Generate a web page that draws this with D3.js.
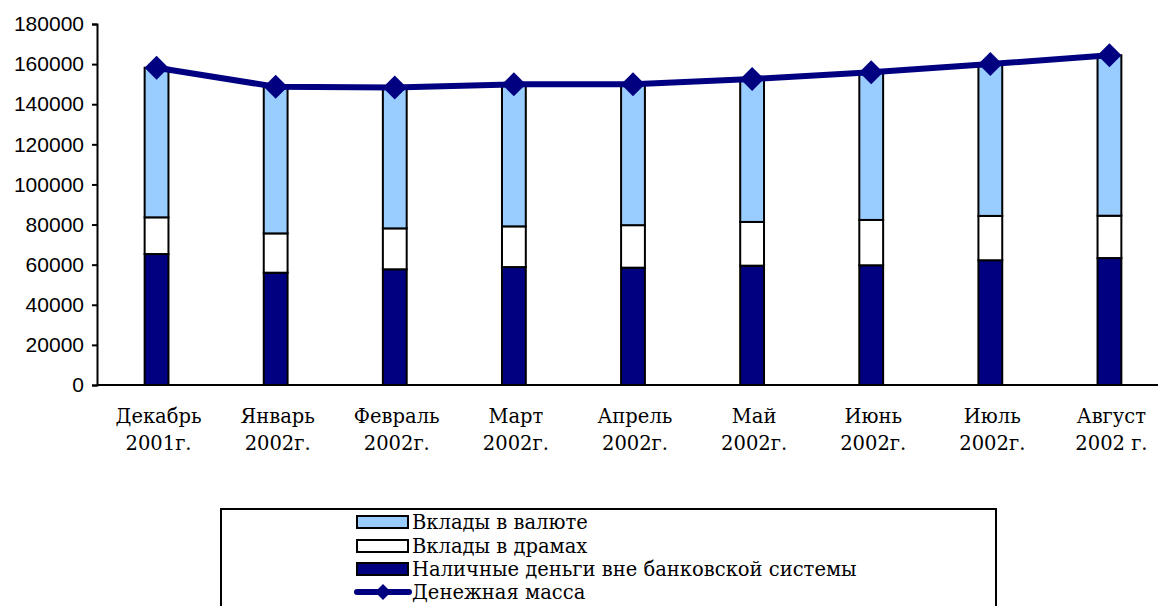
<!DOCTYPE html>
<html>
<head>
<meta charset="utf-8">
<script src="https://cdn.jsdelivr.net/npm/d3@7/dist/d3.min.js"></script>
<style>
  body { margin: 0; background: #ffffff; }
</style>
</head>
<body>
<script>
// ************** Data ***************************************
var months = ["Декабрь", "Январь", "Февраль", "Март", "Апрель", "Май", "Июнь", "Июль", "Август"];
var years = ["2001г.", "2002г.", "2002г.", "2002г.", "2002г.", "2002г.", "2002г.", "2002г.", "2002 г."];
var cashOutside = [65300, 56000, 57700, 58800, 58500, 59500, 59700, 62200, 63300];
var dramDeposits = [18300, 19600, 20400, 20300, 21200, 21800, 22600, 22100, 21100];
var fxDeposits = [74600, 73100, 70300, 70800, 70300, 71300, 73600, 75700, 80000];
var moneySupply = [158200, 148700, 148400, 149900, 150000, 152600, 155900, 160000, 164400];
var yTicks = [0, 20000, 40000, 60000, 80000, 100000, 120000, 140000, 160000, 180000];
var seriesNames = ["Вклады в валюте", "Вклады в драмах", "Наличные деньги вне банковской системы", "Денежная масса"];

/* Standard sizes of the drawing area */
var margin = {top: 24, right: -11, bottom: 221, left: 97},
    width = 1158 - margin.left - margin.right,
    height = 606 - margin.top - margin.bottom;

var navyColor = "#000080",
    whiteColor = "#ffffff",
    lightBlueColor = "#99ccff",
    serifFont = "'DejaVu Serif', 'Liberation Serif', serif",
    sansFont = "'Liberation Sans', Arial, sans-serif";

var svg = d3.select("body").append("svg")
    .attr("width", 1158)
    .attr("height", 606);

var chart = svg.append("g")
    .attr("transform", "translate(" + margin.left + "," + margin.top + ")");

var x = d3.scaleBand().domain(d3.range(months.length)).range([0, width]).paddingInner(0.8).paddingOuter(0.4);
var y = d3.scaleLinear().domain([0, 180000]).range([height, 0]);

// stack the three bar series from the bottom up
var rows = months.map(function (m, i) {
  return {cash: cashOutside[i], dram: dramDeposits[i], fx: fxDeposits[i]};
});
var stack = d3.stack().keys(["cash", "dram", "fx"]);
var layers = stack(rows);
var layerColors = [navyColor, whiteColor, lightBlueColor];

addYAxis();
addBars();
addXAxis();
addMoneyLine();
addLegend();

function addYAxis() {
  var axis = chart.append("g")
      .call(d3.axisLeft(y).tickValues(yTicks).tickSize(5).tickPadding(8).tickFormat(d3.format("d")));
  axis.select(".domain").attr("stroke", "#000").attr("stroke-width", 2);
  axis.selectAll(".tick line").attr("stroke", "#000").attr("stroke-width", 2);
  axis.selectAll("text")
    .style("font-family", sansFont)
    .style("font-size", "21px")
    .attr("fill", "#000");
}

function addXAxis() {
  chart.append("line")        // x axis line
    .attr("x1", 0)
    .attr("y1", height)
    .attr("x2", width)
    .attr("y2", height)
    .attr("stroke", "#000")
    .attr("stroke-width", 2);

  var labels = chart.append("g").selectAll("text")
    .data(months)
    .enter().append("text")
    .attr("x", function (d, i) { return x(i) + x.bandwidth() / 2 + 2; })
    .attr("y", height + 38)
    .attr("text-anchor", "middle")
    .style("font-family", serifFont)
    .style("font-size", "19.5px")
    .attr("fill", "#000");
  labels.append("tspan").text(function (d) { return d; });
  labels.append("tspan")
    .attr("x", function (d, i) { return x(i) + x.bandwidth() / 2 + 2; })
    .attr("dy", 27)
    .text(function (d, i) { return years[i]; });
}

function addBars() {
  chart.append("g").selectAll("g")
    .data(layers)
    .enter().append("g")
    .attr("fill", function (d, i) { return layerColors[i]; })
    .selectAll("rect")
    .data(function (d) { return d; })
    .enter().append("rect")
    .attr("x", function (d, i) { return x(i); })
    .attr("y", function (d) { return y(d[1]); })
    .attr("width", x.bandwidth())
    .attr("height", function (d) { return y(d[0]) - y(d[1]); })
    .attr("stroke", "#000")
    .attr("stroke-width", 2);
}

function diamondPath(cx, cy, r) {
  return "M" + cx + "," + (cy - r) + "L" + (cx + r) + "," + cy + "L" + cx + "," + (cy + r) + "L" + (cx - r) + "," + cy + "Z";
}

function addMoneyLine() {
  var line = d3.line()
    .x(function (d, i) { return x(i) + x.bandwidth() / 2; })
    .y(function (d) { return y(d); });

  chart.append("path")
    .datum(moneySupply)
    .attr("d", line)
    .attr("fill", "none")
    .attr("stroke", navyColor)
    .attr("stroke-width", 6);

  chart.append("g").selectAll("path")
    .data(moneySupply)
    .enter().append("path")
    .attr("d", function (d, i) { return diamondPath(x(i) + x.bandwidth() / 2, y(d), 12); })
    .attr("fill", navyColor);
}

function addLegend() {
  var legend = svg.append("g");
  legend.append("rect")       // legend frame, cut by the bottom edge
    .attr("x", 221)
    .attr("y", 509)
    .attr("width", 775)
    .attr("height", 120)
    .attr("fill", "#fff")
    .attr("stroke", "#000")
    .attr("stroke-width", 2);

  var rowY = [522, 546, 569, 592];
  var swatchColors = [lightBlueColor, whiteColor, navyColor];

  swatchColors.forEach(function (c, i) {
    legend.append("rect")
      .attr("x", 357)
      .attr("y", rowY[i] - 6)
      .attr("width", 51)
      .attr("height", 12)
      .attr("fill", c)
      .attr("stroke", "#000")
      .attr("stroke-width", 2);
  });

  legend.append("line")
    .attr("x1", 357)
    .attr("y1", rowY[3])
    .attr("x2", 409)
    .attr("y2", rowY[3])
    .attr("stroke", navyColor)
    .attr("stroke-width", 6)
    .attr("stroke-linecap", "round");
  legend.append("path")
    .attr("d", diamondPath(383, rowY[3], 8))
    .attr("fill", navyColor);

  legend.selectAll("text.item")
    .data(seriesNames)
    .enter().append("text")
    .attr("class", "item")
    .attr("x", 412)
    .attr("y", function (d, i) { return rowY[i] + 7; })
    .style("font-family", serifFont)
    .style("font-size", "19.5px")
    .attr("fill", "#000")
    .text(function (d) { return d; });
}
</script>
</body>
</html>
